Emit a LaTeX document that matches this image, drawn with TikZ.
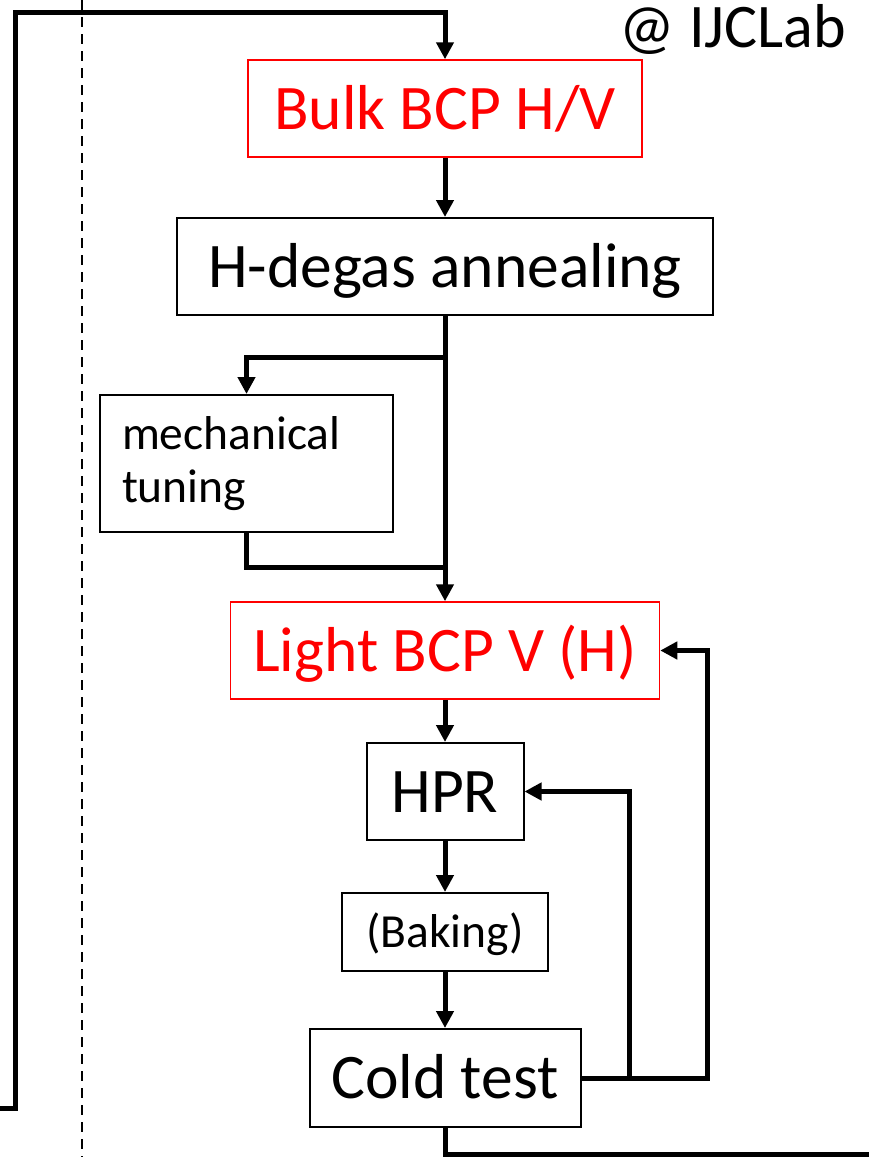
\documentclass[tikz,border=0pt]{standalone}
\usepackage{fontspec}
\setmainfont{Carlito}
\usetikzlibrary{positioning,arrows.meta}
\definecolor{stepred}{RGB}{255,0,0}

\begin{document}
\begin{tikzpicture}[
  x=1pt,y=-1pt,
  box/.style={
    rectangle,draw=black,line width=2pt,
    inner sep=0pt,align=center,
    font=\fontsize{63.5}{76}\selectfont,
    text height=41pt,text depth=0pt,
    minimum height=97pt
  },
  redbox/.style={box,draw=stepred,text=stepred,line width=1.5pt},
  smallbox/.style={box,font=\fontsize{47.5}{57}\selectfont,text height=30.5pt},
  arr/.style={-{Triangle[length=17pt,width=17pt]},line width=5pt},
  wire/.style={line width=5pt},
  divider/.style={line width=2pt,dash pattern=on 10pt off 7pt}
]
\useasboundingbox (0,0) rectangle (869,1157);

\node[redbox,minimum width=394pt] (bulk) at (445,108.5) {Bulk BCP H/V};
\node[box,minimum width=536pt] (degas) at (445,266.5) {H-degas annealing};
\node[box,draw=black,line width=2pt,minimum width=293pt,minimum height=137pt,
  text width=249pt,inner xsep=22pt,align=left,text height=,text depth=,
  font=\fontsize{47.5}{53}\selectfont] (mech) at (246.5,463.5) {mechanical\\tuning};
\node[redbox,minimum width=429pt] (light) at (445,650.5) {Light BCP V (H)};
\node[box,minimum width=157pt] (hpr) at (445,791.5) {HPR};
\node[smallbox,minimum width=206pt,minimum height=78pt] (bake) at (445,932) {(Baking)};
\node[box,minimum width=271pt,minimum height=98pt] (cold) at (445,1078) {Cold test};

\node[font=\fontsize{62}{74}\selectfont,anchor=base] (lab) at (733,47) {@ IJCLab};

\coordinate (divtop) at (82,0);
\coordinate (divbot) at (82,1157);
\coordinate (loopin) at (0,1108);
\coordinate (looptop) at (15,12);
\coordinate (split) at (445,357);
\coordinate (join) at (445,567);
\coordinate (railA) at (629,0);
\coordinate (railB) at (707,0);
\coordinate (exitR) at (869,1154);

\draw[divider] (divtop) -- (divbot);

\draw[arr] (loopin) -- (looptop |- loopin) -- (looptop) -| (bulk.north);
\draw[arr] (bulk) -- (degas);
\draw[arr] (degas.south) -- (light.north);
\draw[arr] (split) -| (mech.north);
\draw[wire] (mech.south) |- (join);
\draw[arr] (light) -- (hpr);
\draw[arr] (hpr) -- (bake);
\draw[arr] (bake) -- (cold);
\draw[arr] (cold.east) -- (cold.east -| railB) |- (light.east);
\draw[arr] (cold.east -| railA) |- (hpr.east);
\draw[wire] (cold.south) |- (exitR);
\end{tikzpicture}
\end{document}
